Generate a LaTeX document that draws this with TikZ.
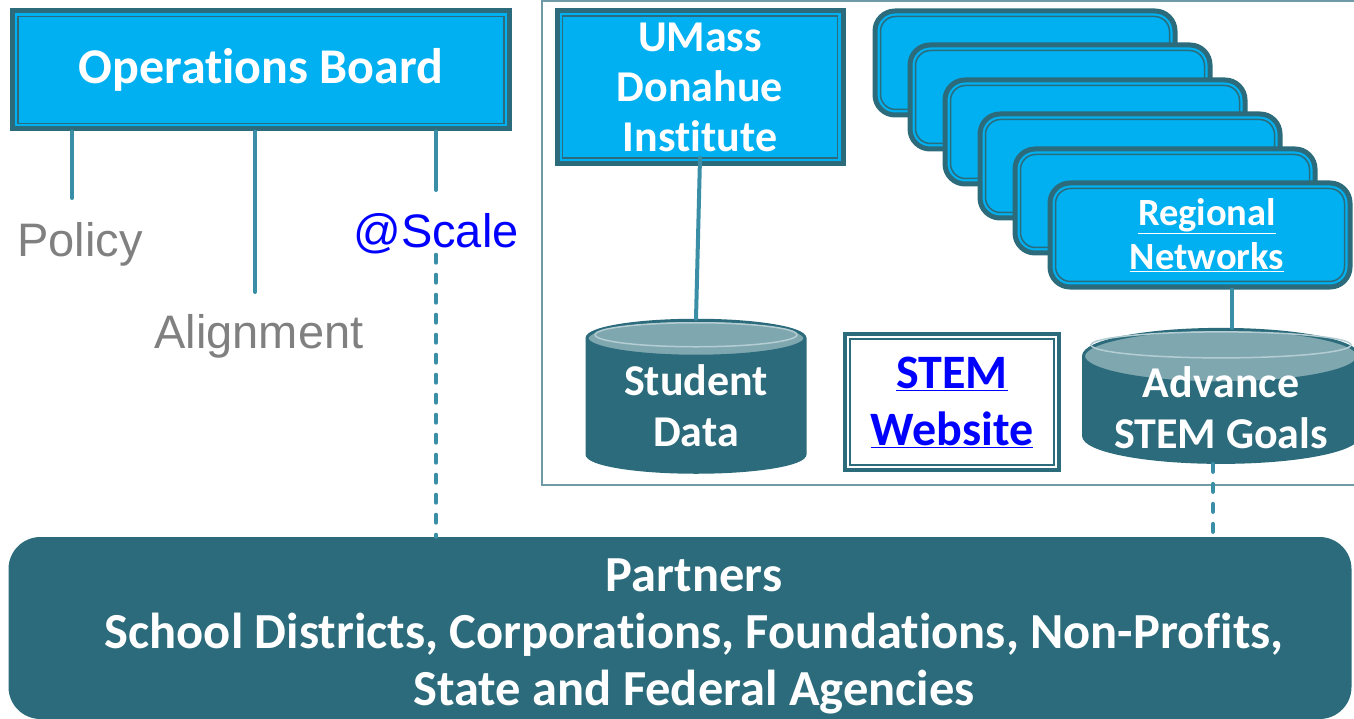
\documentclass[tikz,border=0pt]{standalone}
\usepackage{fontspec}
\setmainfont{Carlito}[Ligatures=NoCommon]
\newfontfamily\arialfont{Liberation Sans}
\usetikzlibrary{shapes.geometric}
\definecolor{boxblue}{HTML}{00B0F0}
\definecolor{darkteal}{HTML}{2B6B7B}
\definecolor{linkteal}{HTML}{3A8EA5}
\definecolor{endteal}{HTML}{7FA7B0}
\definecolor{ringteal}{HTML}{B4CDD2}
\definecolor{frameteal}{HTML}{6E9BA6}
\definecolor{graytext}{HTML}{808080}
\tikzstyle{conn} = [line width=4pt, line cap=round, draw=linkteal]
\tikzstyle{dashconn} = [conn, dash pattern=on 8pt off 12pt]
\tikzstyle{sidetext} = [inner sep=0pt, font=\arialfont\fontsize{47}{50}\selectfont]
\tikzstyle{ring} = [draw=ringteal, line width=1.5pt]
\tikzset{bluebox/.style={rectangle, draw=darkteal, line width=5pt, fill=boxblue, text=white, align=center,
           path picture={\draw[darkteal, line width=1.5pt] ([shift={(5.5pt,-5.5pt)}]path picture bounding box.north west) rectangle ([shift={(-5.5pt,5.5pt)}]path picture bounding box.south east);}},
         netbox/.style={rectangle, rounded corners=20pt, draw=darkteal, line width=5pt, fill=boxblue, text=white, align=center,
           minimum width=300pt, minimum height=104pt,
           path picture={\draw[darkteal, line width=1.5pt, rounded corners=15pt] ([shift={(5.5pt,-5.5pt)}]path picture bounding box.north west) rectangle ([shift={(-5.5pt,5.5pt)}]path picture bounding box.south east);}},
         webbox/.style={rectangle, draw=darkteal, line width=4pt, fill=white, text=blue, align=center,
           minimum width=214pt, minimum height=136pt, font=\fontsize{48}{57}\selectfont\bfseries,
           path picture={\draw[darkteal, line width=1.2pt] ([shift={(5pt,-5pt)}]path picture bounding box.north west) rectangle ([shift={(-5pt,5pt)}]path picture bounding box.south east);}},
         store/.style={cylinder, shape border rotate=90, aspect=0.25, draw=darkteal, line width=3pt, inner sep=0pt,
           cylinder uses custom fill, cylinder body fill=darkteal, cylinder end fill=endteal,
           text=white, align=center, font=\fontsize{44}{51}\selectfont\bfseries},
         partnerbox/.style={rectangle, rounded corners=32pt, fill=darkteal, text=white, align=center,
           minimum width=1343pt, minimum height=182pt, font=\fontsize{50.5}{57}\selectfont\bfseries}
}

\begin{document}
\begin{tikzpicture}[x=1pt,y=-1pt]
\useasboundingbox (0,0) rectangle (1354,719);
% frame round the institute side
\draw[frameteal, line width=1.5pt] (542,1) rectangle (1370,485);

\node (ob) [bluebox, minimum width=497pt, minimum height=118pt, font=\fontsize{50}{55}\selectfont\bfseries] at (261,70) {Operations Board};
\node (policy) [sidetext, text=graytext, anchor=base] at (80,257) {Policy};
\node (align) [sidetext, text=graytext, anchor=base] at (259,348) {Alignment};
\node (scale) [sidetext, text=blue, anchor=base] at (436,248) {@Scale};

\node (umass) [bluebox, minimum width=286pt, minimum height=153pt, font=\fontsize{44}{50}\selectfont\bfseries] at (700,87) {UMass\\Donahue\\Institute};

\node (net1) [netbox] at (1025,63) {};
\node (net2) [netbox] at (1060,97) {};
\node (net3) [netbox] at (1095,132) {};
\node (net4) [netbox] at (1130,166) {};
\node (net5) [netbox] at (1165,201) {};
\node (reg) [netbox, font=\fontsize{38.5}{44}\selectfont\bfseries] at (1200,235) {\hspace*{14pt}\underline{Regional}\\\hspace*{14pt}\underline{Networks}};

\node (sd) [store, minimum width=218pt, minimum height=152pt] at (696,406) {Student\\Data};
\node (web) [webbox] at (952,402) {\underline{STEM}\\\underline{Website}};
\node (adv) [store, minimum width=275pt, minimum height=133pt] at (1221,410) {\raisebox{-13pt}[0pt][0pt]{Advance}\\\raisebox{-13pt}[0pt][0pt]{STEM Goals}};
% light rings on the cylinder tops
\draw[ring] ([yshift=-16pt]sd.north) ellipse [x radius=101pt, y radius=12pt];
\draw[ring] ([yshift=-17pt]adv.north) ellipse [x radius=130pt, y radius=13pt];

\node (partners) [partnerbox] at (680,628) {\hspace*{28pt}\rule{0pt}{49pt}Partners\\\hspace*{28pt}School Districts, Corporations, Foundations, Non-Profits,\\\hspace*{28pt}State and Federal Agencies};

\coordinate (polend) at (72,198);
\coordinate (alend) at (255,292);
\coordinate (scend) at (436,190);
\coordinate (regline) at (1232,0);
\draw[conn] (ob.south -| polend) -- (polend);
\draw[conn] (ob.south -| alend) -- (alend);
\draw[conn] (ob.south -| scend) -- (scend);
\draw[dashconn] (scale.south) -- (scale.south |- partners.north);
\draw[conn] ([yshift=8pt]umass.south) -- (sd.north);
\draw[conn] (reg.south -| regline) -- (adv.north -| regline);
\draw[dashconn] ([xshift=-8pt]adv.south) -- ([xshift=-8pt]adv.south |- partners.north);
\end{tikzpicture}
\end{document}
